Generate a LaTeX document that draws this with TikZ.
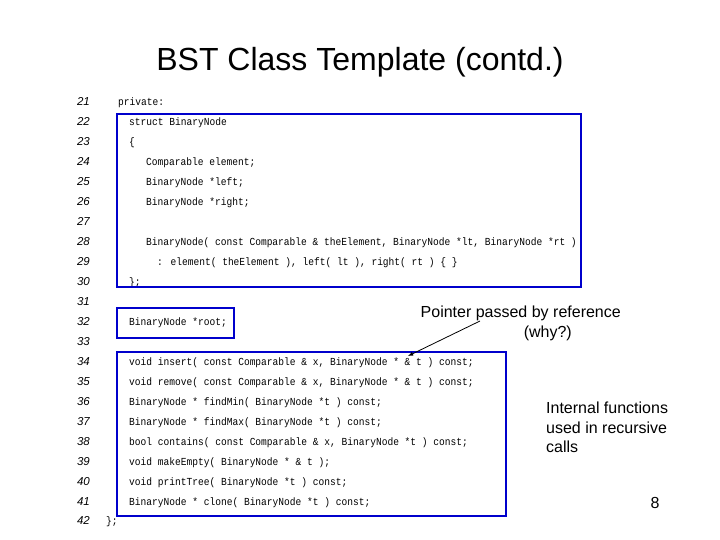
\documentclass[tikz,border=0pt]{standalone}
\usepackage{fontspec}
\setmainfont{Liberation Sans}
\newfontfamily\codefont[FakeStretch=0.89]{Liberation Mono}
\begin{document}
\begin{tikzpicture}[x=1pt,y=-1pt,
  code/.style={anchor=base west,inner sep=0pt,font=\codefont\fontsize{10.75}{13}\selectfont},
  num/.style={anchor=base east,inner sep=0pt,font=\itshape\fontsize{11.5}{12}\selectfont},
  bluebox/.style={draw=blue!80!black,line width=2.2pt},
  note/.style={inner sep=0pt,font=\fontsize{16}{19.5}\selectfont}]
\useasboundingbox (0,0) rectangle (720,540);
\node[font=\fontsize{32}{37}\selectfont] (title) at (360,62) {BST Class Template (contd.)};
\foreach \n [count=\i from 0] in {21,...,42}{
  \node[num] (n\n) at (90,{106+\i*19.95}) {\n};
}
\def\L#1#2#3{\node[code] (c#1) at (#2,{106+(#1-21)*19.95}) {#3};}
\L{21}{118}{private:}
\L{22}{129}{struct BinaryNode}
\L{23}{129}{\{}
\L{24}{146}{Comparable element;}
\L{25}{146}{BinaryNode *left;}
\L{26}{146}{BinaryNode *right;}
\L{28}{146}{BinaryNode( const Comparable \& theElement, BinaryNode *lt, BinaryNode *rt )}
\L{29}{157}{: element( theElement ), left( lt ), right( rt ) \{ \}}
\L{30}{129}{\};}
\L{32}{129}{BinaryNode *root;}
\L{34}{129}{void insert( const Comparable \& x, BinaryNode * \& t ) const;}
\L{35}{129}{void remove( const Comparable \& x, BinaryNode * \& t ) const;}
\L{36}{129}{BinaryNode * findMin( BinaryNode *t ) const;}
\L{37}{129}{BinaryNode * findMax( BinaryNode *t ) const;}
\L{38}{129}{bool contains( const Comparable \& x, BinaryNode *t ) const;}
\L{39}{129}{void makeEmpty( BinaryNode * \& t );}
\L{40}{129}{void printTree( BinaryNode *t ) const;}
\L{41}{129}{BinaryNode * clone( BinaryNode *t ) const;}
\L{42}{106}{\};}
\draw[bluebox] (117,114) rectangle (581,287);
\draw[bluebox] (117,308) rectangle (234,338);
\draw[bluebox] (117,352) rectangle (506,516);
\node[note,align=right,anchor=north east] (ptr) at (621,306) {Pointer passed by reference\\(why?)\hspace*{49pt}};
\coordinate (amp) at (408,356);
\draw[-latex,line width=0.8pt] (480,321) -- (amp);
\node[note,align=left,anchor=north west] (intf) at (546,402) {Internal functions\\used in recursive\\calls};
\node[note,anchor=base] (pg) at (655,508) {8};
\end{tikzpicture}
\end{document}
